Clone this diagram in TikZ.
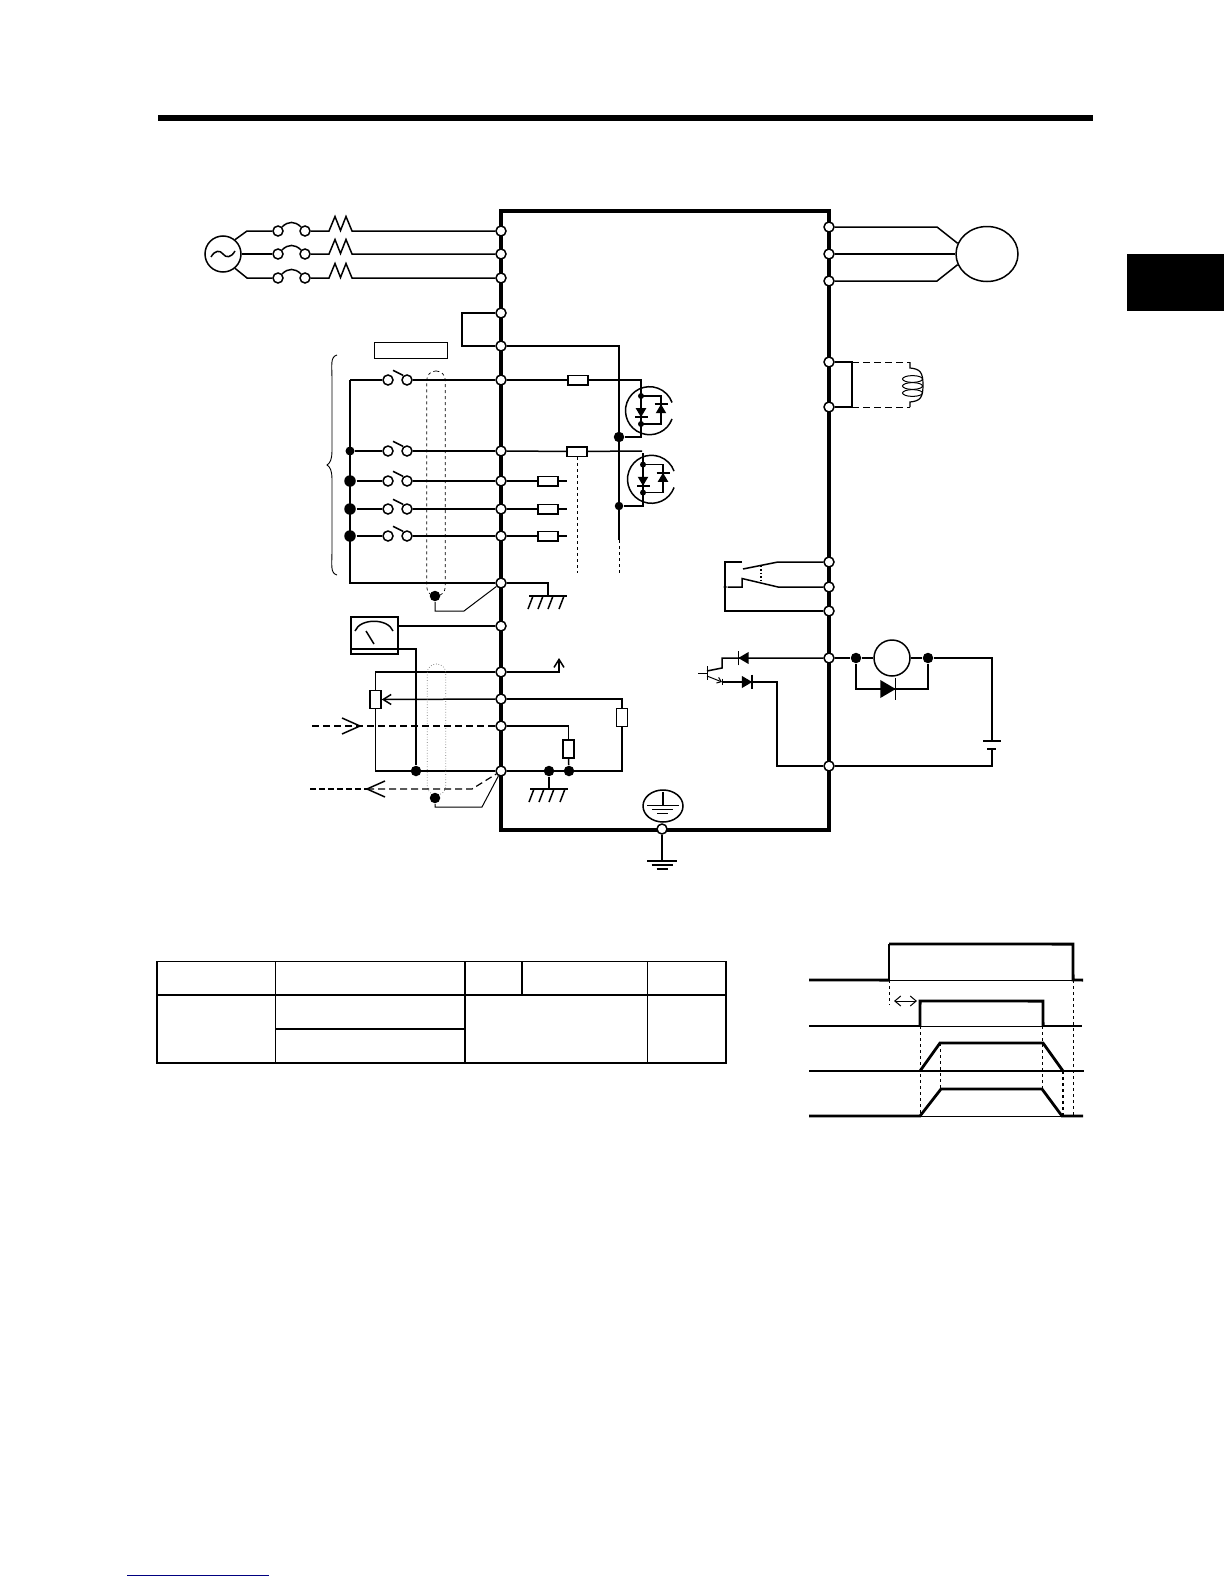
\documentclass[tikz,border=0pt]{standalone}
\usetikzlibrary{arrows.meta,shapes.geometric}
\tikzset{
  diode/.pic={\fill (-4.5,-5.3) -- (4.5,0) -- (-4.5,5.3) -- cycle; \draw (4.5,-6.5) -- (4.5,6.5);},
  chevron/.pic={\draw (-18,-8) -- (0,0) -- (-18,8);},
  chassis/.pic={\draw (-19,0) -- (19,0);
    \foreach \h/\k in {-15/-20,-5/-10,5/0,16/11} \draw (\h,0) -- (\k,13);},
  earth/.pic={\draw (-15,0) -- (15,0) (-10.5,4) -- (10.5,4) (-5.5,8) -- (5.5,8);},
  fet/.pic={\draw (20:24) arc[start angle=20,end angle=340,radius=24];
    \draw (-8.5,-14.7) -- (11.5,-14.7) -- (11.5,13.3) -- (-8.5,13.3);
    \fill (-8.5,-14.7) circle[radius=3] (-8.5,13.3) circle[radius=3];
    \pic[rotate=-90] at (-8.5,2) {diode};
    \pic[rotate=90] at (11.5,-2) {diode};},
}
\begin{document}
\begin{tikzpicture}[x=1pt,y=-1pt,line width=1.5pt,
    term/.style={circle,draw,fill=white,inner sep=0pt,minimum size=10pt},
    dot/.style={circle,fill=black,inner sep=0pt,minimum size=10.5pt},
    res/.style={rectangle,draw,fill=white,inner sep=0pt,minimum width=20pt,minimum height=9.5pt},
    vres/.style={rectangle,draw,fill=white,inner sep=0pt,minimum width=11pt,minimum height=18pt},
    shieldbox/.style={rectangle,draw,rounded corners=9pt,inner sep=0pt,minimum width=18.5pt,line width=.7pt},
    open/.style={-{Straight Barb[length=8pt,width=10pt]}},
    sig/.style={dash pattern=on 7pt off 4pt},
    heavy/.style={line width=2.8pt},
    hair/.style={line width=.8pt}]
  \useasboundingbox (0,0) rectangle (1224,1584);
  \fill (158,115) rectangle (1093,121);
  \fill (1127,254) rectangle (1224,311);
  \draw[navy line/.style={color={rgb,255:red,0;green,0;blue,128}},navy line,line width=1pt] (127,1575) -- (269,1575);
  \draw[line width=3.2pt] (501,211) rectangle (829,830);

  \node[circle,draw,inner sep=0pt,minimum size=36pt] (source) at (223,254) {};
  \draw (211,257) .. controls (215,250) and (220,250) .. (223,254) .. controls (226,258) and (231,258) .. (235,251);
  \foreach \y/\n in {231/r,254/s,278/t} {
    \node[term] (in\n) at (501,\y) {};
    \node[term] (cbl\n) at (278,\y) {};
    \node[term] (cbr\n) at (305,\y) {};
    \coordinate (thl\n) at (329,\y);
    \coordinate (thr\n) at (352,\y);
    \draw (cbl\n.north east) .. controls +(6,-6) and +(-6,-6) .. (cbr\n.north west);
    \draw (cbr\n) -- (thl\n) -- ++(6,-14.5) -- ++(5.5,14) -- ++(5.5,-14) -- (thr\n) -- (in\n);
  }
  \coordinate (srcr) at (247,231);
  \coordinate (srct) at (247,278);
  \draw (source.50) -- (srcr) -- (cblr);
  \draw (source) -- (cbls);
  \draw (source.-50) -- (srct) -- (cblt);

  \node[term] (jmpa) at (501,313) {};
  \node[term] (jmpb) at (501,346) {};
  \coordinate (jmpc) at (462,313);
  \coordinate (jmpd) at (462,346);
  \draw (jmpa) -- (jmpc) -- (jmpd) -- (jmpb);
  \node[rectangle,draw,inner sep=0pt,minimum width=73pt,minimum height=16pt,line width=1pt] (prog) at (410.5,350) {};

  \foreach \y/\n in {380/a,451/b,481/c,509/d,536/e} {
    \node[term] (di\n) at (501,\y) {};
    \node[term] (swl\n) at (388,\y) {};
    \node[term] (swr\n) at (407,\y) {};
    \draw (393,\y-9.7) -- (403,\y-4.7);
    \draw (swr\n) -- (di\n);
  }
  \node[term] (cm) at (501,583) {};
  \coordinate (busa) at (350,380);
  \node[dot,minimum size=9pt] (busb) at (350,451) {};
  \foreach \y/\n in {481/c,509/d,536/e} \node[dot,minimum size=11.5pt] (bus\n) at (350,\y) {};
  \foreach \n in {a,b,c,d,e} \draw (bus\n) -- (swl\n);
  \draw (cm) -| (busa);
  \draw[line width=.9pt] (337,355) .. controls (330,357) and (332,365) .. (332,380) -- (332,450) .. controls (332,460) and (330,463) .. (327,465)
    .. controls (330,467) and (332,470) .. (332,480) -- (332,550) .. controls (332,565) and (330,573) .. (337,575);

  \node[shieldbox,dashed,minimum height=225pt] (shielda) at (436,483.5) {};
  \node[dot] (sha) at (435,596) {};
  \coordinate (shb) at (435,611);
  \coordinate (shc) at (464,611);
  \draw[line width=1pt] (sha) -- (shb) -- (shc) -- (cm);

  \node[res] (rga) at (578,380) {};
  \node[res] (rgb) at (577,451.5) {};
  \foreach \y/\n in {481/c,509/d,536/e} {
    \node[res] (rx\n) at (548,\y) {};
    \coordinate (stub\n) at (567,\y);
    \draw (di\n) -- (rx\n);
    \draw (rx\n) -- (stub\n);
  }
  \draw (dia) -- (rga);
  \draw (dib) -- (rgb);
  \node[dot] (srca) at (619,437) {};
  \node[dot,minimum size=8.5pt] (srcb) at (619,506) {};
  \coordinate (gata) at (641,380);
  \coordinate (gatb) at (641,437);
  \coordinate (gatc) at (642,451);
  \coordinate (gatd) at (643,453);
  \coordinate (gate) at (643,506);
  \coordinate (railt) at (619,346);
  \coordinate (railb) at (619,540);
  \coordinate (railc) at (619,573);
  \coordinate (sensa) at (577,573);
  \draw (rga) -- (gata) -- (gatb) -- (srca);
  \draw (rgb) -- (gatc);
  \draw (gatd) -- (gate) -- (srcb);
  \draw (jmpb) -- (railt) -- (railb);
  \draw[line width=1pt,dashed] (railb) -- (railc);
  \draw[line width=1pt,dashed] (rgb) -- (sensa);
  \pic at (649.5,410.7) {fet};
  \pic at (651.5,479.3) {fet};

  \coordinate (gnda) at (548,583);
  \coordinate (gndb) at (548,596);
  \draw (cm) -- (gnda) -- (gndb);
  \pic at (548,596) {chassis};

  \node[rectangle,draw,inner sep=0pt,minimum width=47pt,minimum height=37pt] (meter) at (374.5,635.5) {};
  \draw (355,631) .. controls (360,618) and (388,618) .. (393,631);
  \draw (366,631) -- (374,644);
  \node[term] (tfm) at (501,626) {};
  \node[term] (tvs) at (501,672) {};
  \node[term] (tpt) at (501,699) {};
  \node[term] (tcur) at (501,726) {};
  \node[term] (tco) at (501,771) {};
  \node[dot] (cma) at (416,771) {};
  \node[dot] (cmb) at (549,771) {};
  \node[dot] (cmc) at (569,771) {};
  \coordinate (mb) at (416,649);
  \coordinate (vtip) at (559,658);
  \draw (tfm) -- (meter.east |- tfm);
  \draw (meter.west |- mb) -- (mb) -- (cma);
  \node[vres] (pot) at (375.5,699.5) {};
  \node[vres] (rv) at (622,717.5) {};
  \node[vres] (rc) at (568.5,749) {};
  \draw (tvs) -| (pot.north);
  \draw (pot.south) |- (tco);
  \draw[open] (tpt) -- (pot.east);
  \draw[open] (tvs) -| (vtip);
  \draw (tpt) -| (rv.north);
  \draw (rv.south) |- (tco);
  \draw (tcur) -| (rc.north);
  \draw (rc.south) -- (cmc);
  \coordinate (gndc) at (549,789);
  \draw (cmb) -- (gndc);
  \pic at (549,789) {chassis};

  \node[shieldbox,dotted,draw=black!55,minimum height=131pt] (shieldb) at (436.5,729.5) {};
  \node[dot] (shd) at (435,798) {};
  \coordinate (she) at (435,807);
  \coordinate (shf) at (482,807);
  \draw[line width=1pt] (shd) -- (she) -- (shf) -- (tco);

  \coordinate (insrc) at (312,726);
  \draw[sig,line width=1.2pt] (insrc) -- (tcur);
  \pic at (360,726) {chevron};
  \coordinate (outa) at (310,789);
  \coordinate (outb) at (367,789);
  \coordinate (outc) at (472,789);
  \draw[dash pattern=on 6pt off 3pt] (outa) -- (outb);
  \draw[sig,line width=1.2pt] (outb) -- (outc) -- (tco);
  \pic[rotate=180] at (367,789) {chevron};

  \foreach \y/\n in {227/u,254/v,281/w} \node[term] (out\n) at (829,\y) {};
  \node[ellipse,draw,inner sep=0pt,minimum width=62pt,minimum height=55pt] (motor) at (987,254) {};
  \coordinate (mtu) at (937,227);
  \coordinate (mtw) at (937,281);
  \draw (outu) -- (mtu) -- (motor.160);
  \draw (outv) -- (motor);
  \draw (outw) -- (mtw) -- (motor.200);

  \node[term] (dba) at (829,362) {};
  \node[term] (dbb) at (829,407) {};
  \coordinate (brka) at (852,362);
  \coordinate (brkb) at (852,407);
  \coordinate (cola) at (910,362);
  \coordinate (colb) at (910,407);
  \coordinate (colc) at (910,368);
  \coordinate (cold) at (910,402);
  \draw (dba) -- (brka) -- (brkb) -- (dbb);
  \draw[sig,line width=1pt] (brka) -- (cola);
  \draw[sig,line width=1pt] (brkb) -- (colb);
  \draw[line width=1.2pt] (cola) -- (colc) .. controls (920,369) and (923,372) .. (923,385) .. controls (923,398) and (920,401) .. (cold) -- (colb);
  \foreach \y in {379,386,393} \draw[line width=1pt] (912.5,\y) ellipse[x radius=10,y radius=3.4];

  \node[term] (ra) at (829,562) {};
  \node[term] (rb) at (829,587) {};
  \node[term] (rc2) at (829,611) {};
  \coordinate (cta) at (778,562);
  \coordinate (ctb) at (743,569);
  \coordinate (ctc) at (778,587);
  \coordinate (ctd) at (742,578.5);
  \coordinate (cte) at (742,587);
  \coordinate (ctf) at (725,562);
  \coordinate (ctg) at (742,562);
  \coordinate (cth) at (725,611);
  \node[circle,fill=black,inner sep=0pt,minimum size=3.5pt] (ctj) at (725,587) {};
  \draw (ra) -- (cta) -- (ctb);
  \draw (rb) -- (ctc) -- (ctd) -- (cte) -- (ctj);
  \draw (ctg) -- (ctf) -- (cth) -- (rc2);
  \draw[dotted,line width=1.4pt] (761,566) -- (761,582);

  \node[term] (ya) at (829,658) {};
  \node[term] (cme) at (829,766) {};
  \coordinate (dca) at (738,658);
  \coordinate (dcb) at (722,658);
  \coordinate (dcc) at (722,668);
  \coordinate (dcd) at (707,671);
  \coordinate (dce) at (707,676);
  \coordinate (dcf) at (722,682);
  \coordinate (dcg) at (777,682);
  \coordinate (dch) at (777,766);
  \draw (ya) -- (dca) -- (dcb) -- (dcc) -- (dcd);
  \draw[-{Straight Barb[length=4pt,width=6pt]},line width=1pt] (dce) -- (dcf);
  \draw (dcf) -- (dcg) -- (dch) -- (cme);
  \draw[line width=1pt] (707,666) -- (707,680) (698,673) -- (707,673) (722,678.5) -- (722,685);
  \pic[rotate=180,scale=1.15] at (743.5,658) {diode};
  \pic[scale=1.15] at (747,682) {diode};

  \node[dot] (yb) at (856,658) {};
  \node[circle,draw,inner sep=0pt,minimum size=36pt] (ry) at (892,658) {};
  \node[dot] (yc) at (928,658) {};
  \coordinate (fwa) at (856,689);
  \coordinate (fwb) at (928,689);
  \coordinate (bta) at (992,658);
  \coordinate (btb) at (992,741);
  \coordinate (btc) at (992,749);
  \coordinate (btd) at (992,766);
  \draw (ya) -- (yb) -- (ry) -- (yc) -- (bta) -- (btb);
  \draw (yb) -- (fwa) -- (fwb) -- (yc);
  \draw (btc) -- (btd) -- (cme);
  \draw (983,741) -- (1001,741);
  \draw[line width=2.4pt] (987,749) -- (996,749);
  \pic[scale=1.7] at (888,689) {diode};

  \node[ellipse,draw,inner sep=0pt,minimum width=40pt,minimum height=32pt] (pe) at (663,806) {};
  \draw (663,792) -- (663,805);
  \draw[line width=1pt] (647,805) -- (679,805) (652,809) -- (673,809) (657,813) -- (668,813);
  \node[term] (ge) at (662,829) {};
  \coordinate (gea) at (662,861);
  \draw (ge) -- (gea);
  \pic at (662,861) {earth};

  \draw[line width=1.1pt] (157,961.5) rectangle (726,1063);
  \draw[line width=1.1pt] (157,995) -- (726,995) (275.5,961.5) -- (275.5,1063) (465,961.5) -- (465,1063)
    (522,961.5) -- (522,995) (647.5,961.5) -- (647.5,1063) (275.5,1029) -- (465,1029);

  \draw[heavy] (809,980) -- (889,980.1);
  \draw[line width=1.4pt] (889,980) -- (889,944);
  \draw[heavy] (889,944) -- (1073,944.1) -- (1073.1,980) -- (1083,980.1);
  \draw[hair] (889,980) -- (1073,980);
  \draw[line width=1.2pt] (809,1026) -- (920,1026) (1043,1026) -- (1082,1026);
  \draw[heavy] (920,1026) -- (920.1,1001) -- (1043,1001.1) -- (1043.1,1026);
  \draw[hair] (920,1026) -- (1043,1026);
  \draw[line width=1.2pt] (809,1071) -- (1084,1071);
  \draw[heavy] (920,1071) -- (940,1043) -- (1043,1043) -- (1063,1071);
  \draw[heavy] (809,1116) -- (920,1116) -- (941,1089) -- (1042,1089) -- (1062,1116) -- (1083,1116);
  \draw[hair] (920,1116) -- (1062,1116);
  \draw[hair,dashed] (889,980) -- (889,1005) (920,1026) -- (920,1116) (940,1043) -- (940,1089)
    (1042,1026) -- (1042,1089) (1073,980) -- (1073,1116);
  \draw[line width=1.4pt,dashed] (1063,1071) -- (1063,1116);
  \draw[line width=1pt,{Straight Barb[length=6pt,width=10pt]}-{Straight Barb[length=6pt,width=10pt]}] (894,1001) -- (917,1001);
\end{tikzpicture}
\end{document}
